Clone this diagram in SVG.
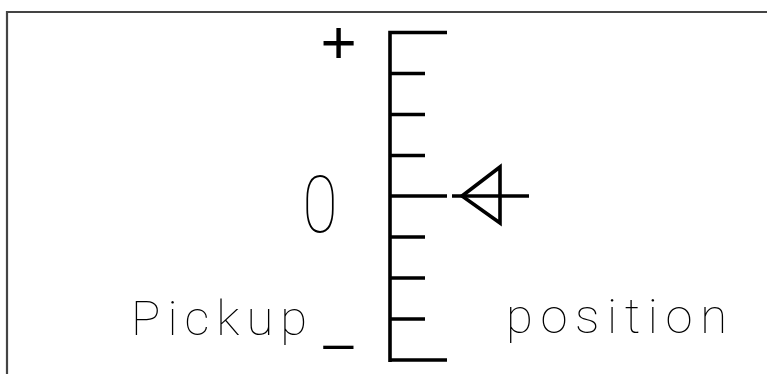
<svg xmlns="http://www.w3.org/2000/svg" width="767" height="374" viewBox="0 0 767 374">
<style>
.frame{fill:none;stroke:#444;stroke-width:2.2}
.heavy{fill:none;stroke:#000;stroke-width:3.6;stroke-linecap:butt;stroke-linejoin:miter}
.thin{font-family:Roboto,"Liberation Sans",sans-serif;font-weight:100;fill:#000}
.sym{font-family:"Liberation Sans",Arial,sans-serif;fill:#000}
</style>
<rect width="767" height="374" fill="#fff"/>
<g id="frame">
<path class="frame" d="M7,380 V12 H770"/>
</g>
<g id="scale">
<path class="heavy" d="M390,30.7 V362 M388.2,32.5 H447 M390,73.5 H425 M390,114.5 H425 M390,155.5 H425 M390,196 H447 M390,237 H425 M390,278 H425 M390,319 H425 M388.2,360 H447"/>
</g>
<g id="plus-label">
<text class="sym" x="338.5" y="63" font-size="62" text-anchor="middle">+</text>
</g>
<g id="minus-label">
<text class="sym" x="338.5" y="339" font-size="52" text-anchor="middle">_</text>
</g>
<g id="zero-label">
<text class="thin" x="0" y="0" font-size="80" text-anchor="middle" transform="translate(320,232) scale(0.8,1)">0</text>
</g>
<g id="pickup-label">
<text class="thin" x="131" y="335" font-size="49" textLength="176" lengthAdjust="spacing">Pickup</text>
</g>
<g id="position-label">
<text class="thin" x="506" y="333" font-size="49" textLength="221" lengthAdjust="spacing">position</text>
</g>
<g id="connectors">
<g id="pointer">
<path class="heavy" d="M452,196 H529"/>
<polygon class="heavy" points="462,196 500,167 500,223"/>
</g>
</g>
</svg>
